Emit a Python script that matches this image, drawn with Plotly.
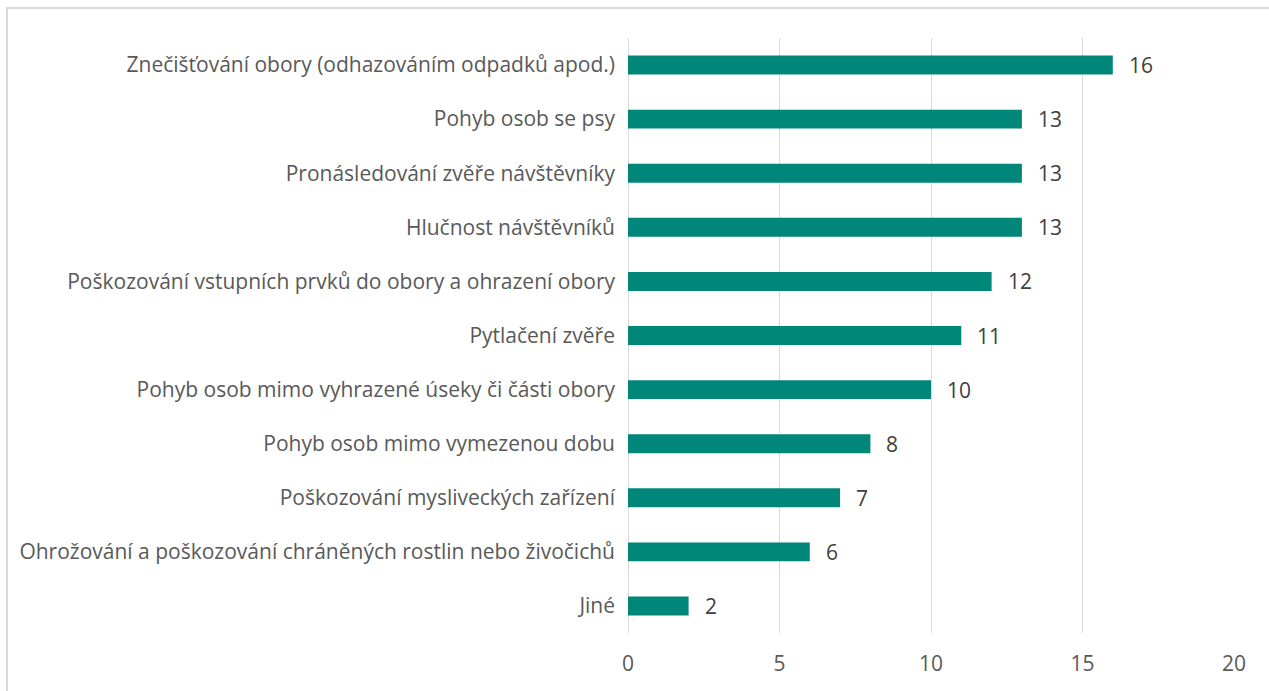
import plotly.graph_objects as go

categories = [
    "Znečišťování obory (odhazováním odpadků apod.)",
    "Pohyb osob se psy",
    "Pronásledování zvěře návštěvníky",
    "Hlučnost návštěvníků",
    "Poškozování vstupních prvků do obory a ohrazení obory",
    "Pytlačení zvěře",
    "Pohyb osob mimo vyhrazené úseky či části obory",
    "Pohyb osob mimo vymezenou dobu",
    "Poškozování mysliveckých zařízení",
    "Ohrožování a poškozování chráněných rostlin nebo živočichů",
    "Jiné",
]
values = [16, 13, 13, 13, 12, 11, 10, 8, 7, 6, 2]
x_ticks = [0, 5, 10, 15, 20]

W, H = 1269, 691
L, R, T, B = 628, 35, 38, 58
plot_w = W - L - R
plot_h = H - T - B

font_family = "'Open Sans', sans-serif"
font_size = 21
text_color = "#595959"

fig = go.Figure(
    go.Bar(
        x=values,
        y=categories,
        orientation="h",
        marker=dict(color="#00877A", line=dict(width=0)),
        width=0.35,
        hoverinfo="x+y",
    )
)

# value labels to the right of each bar
for cat, v in zip(categories, values):
    fig.add_annotation(
        x=v, y=cat, xref="x", yref="y",
        text=str(v), showarrow=False,
        xanchor="left", yanchor="middle", xshift=14,
        font=dict(family=font_family, size=font_size, color="#404040"),
    )

# frame around the chart (top and left edges visible)
fig.add_shape(
    type="rect",
    xref="paper", yref="paper",
    x0=(7 - L) / plot_w, x1=(W + 20 - L) / plot_w,
    y0=-(H + 20 - T - plot_h) / plot_h, y1=1 + (T - 8) / plot_h,
    line=dict(color="#D9D9D9", width=2),
    fillcolor="rgba(0,0,0,0)",
    layer="below",
)

fig.update_layout(
    width=W, height=H,
    margin=dict(l=L, r=R, t=T, b=B, autoexpand=False),
    paper_bgcolor="white",
    plot_bgcolor="white",
    showlegend=False,
    font=dict(family=font_family, size=font_size, color=text_color),
)
fig.update_xaxes(
    range=[0, 20],
    tickvals=x_ticks,
    ticktext=[str(t) for t in x_ticks],
    showgrid=True,
    gridcolor="#D9D9D9",
    gridwidth=1,
    zeroline=True,
    zerolinecolor="#D9D9D9",
    zerolinewidth=1,
    showline=False,
    ticks="",
    ticklabelstandoff=16,
    tickfont=dict(family=font_family, size=font_size, color=text_color),
    automargin=False,
    fixedrange=True,
)
fig.update_yaxes(
    categoryorder="array",
    categoryarray=categories[::-1],
    showgrid=False,
    zeroline=False,
    showline=False,
    ticks="",
    ticklabelstandoff=12,
    tickfont=dict(family=font_family, size=font_size, color=text_color),
    automargin=False,
    fixedrange=True,
)

fig.write_html("out.html")
